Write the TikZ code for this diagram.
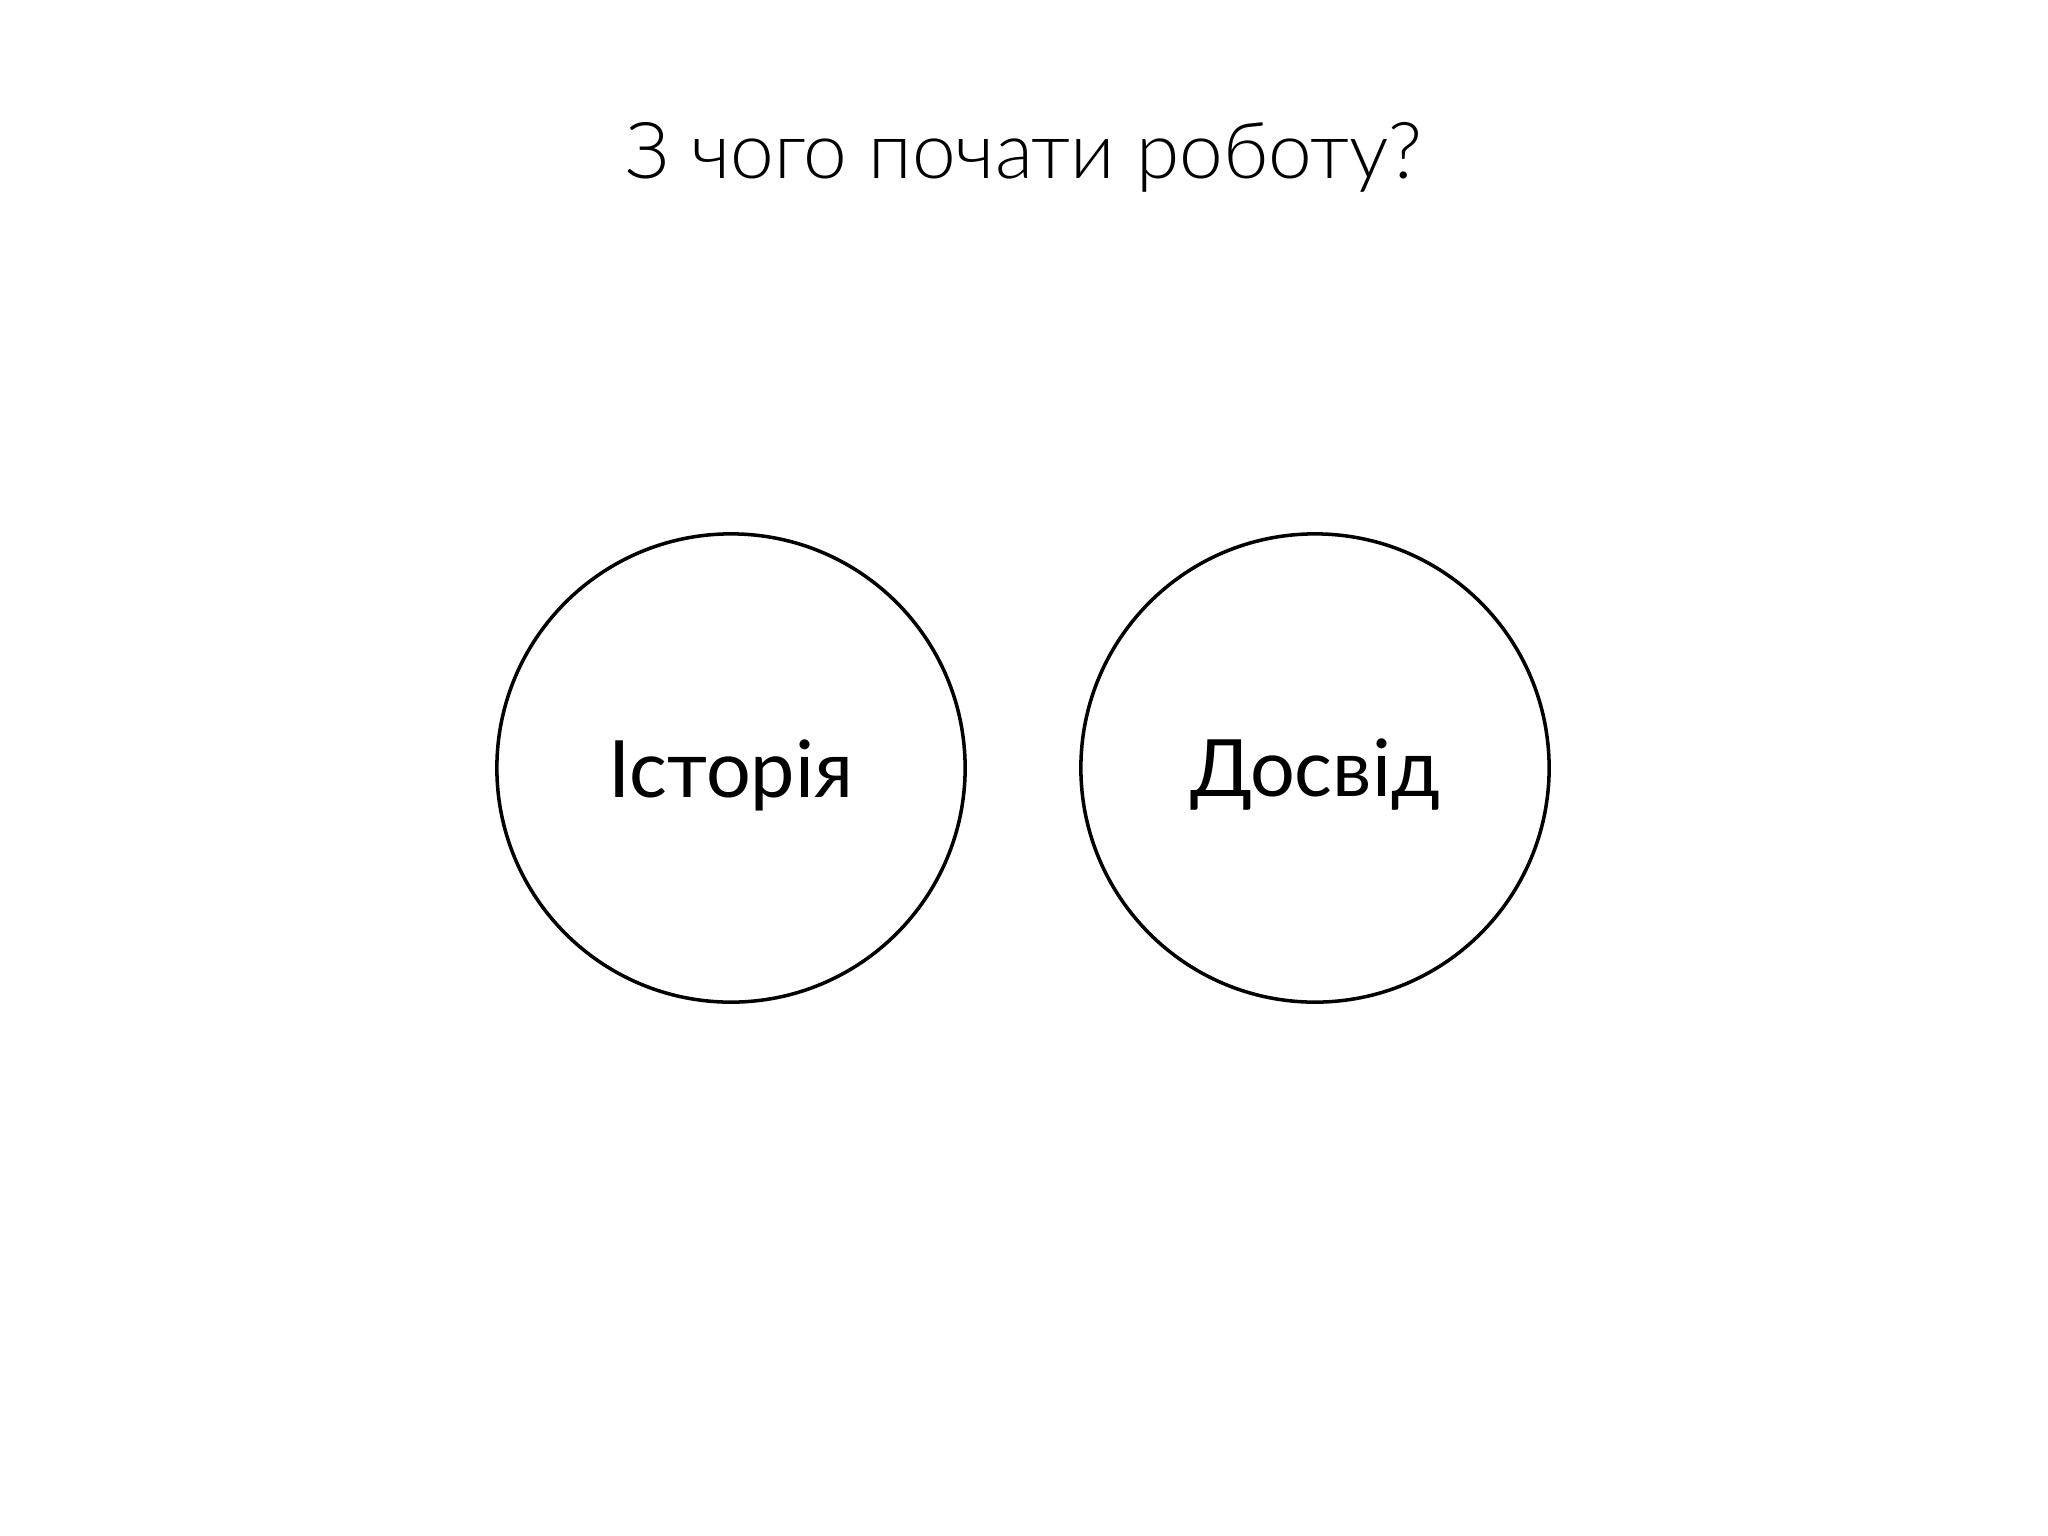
\documentclass[tikz,border=0pt]{standalone}
\usepackage{fontspec}
\setmainfont{Lato}
\newfontfamily\titlefont{Lato Light}
\begin{document}
\begin{tikzpicture}[x=0.01cm,y=-0.01cm,
  circ/.style={circle,draw=black,line width=1pt,minimum size=4.68cm,inner sep=0pt},
  lbl/.style={font=\fontsize{22.5}{27}\selectfont}]
\useasboundingbox (0,0) rectangle (2048,1536);
\node[font=\titlefont\fontsize{22.3}{27}\selectfont] (title) at (1024,157) {З чого почати роботу?};
\node[circ] (ist) at (731,768) {};
\node[circ] (dos) at (1315,768) {};
\node[lbl] (istl) at ([yshift=-0.07cm]ist.center) {Історія};
\node[lbl] (dosl) at ([yshift=-0.07cm]dos.center) {Досвід};
\end{tikzpicture}
\end{document}
